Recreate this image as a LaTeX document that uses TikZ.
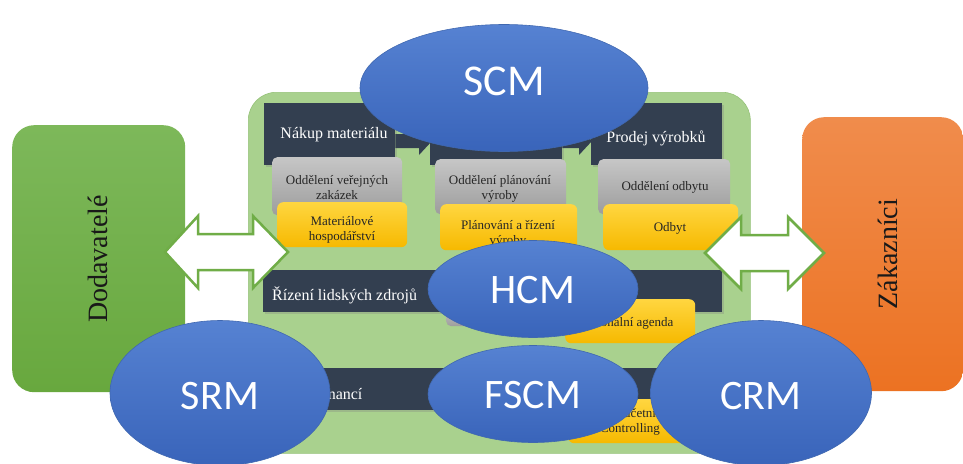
\documentclass[tikz,border=0pt]{standalone}
\usepackage{fontspec}
\setmainfont{Liberation Serif}
\newfontfamily\calib{Carlito}
\usetikzlibrary{shapes.geometric,shadows}
\definecolor{dkbox}{HTML}{333F50}
\definecolor{grayA}{HTML}{C6C6C6}
\definecolor{grayB}{HTML}{9D9D9D}
\definecolor{yelA}{HTML}{FFD640}
\definecolor{yelB}{HTML}{F6B900}
\definecolor{bgGreen}{HTML}{A9D18E}
\definecolor{bgEdge}{HTML}{95C278}
\definecolor{greenA}{HTML}{7DB85A}
\definecolor{greenB}{HTML}{68A83E}
\definecolor{orA}{HTML}{F08C4C}
\definecolor{orB}{HTML}{EC7222}
\definecolor{bluA}{HTML}{5682D2}
\definecolor{bluB}{HTML}{3964BA}
\definecolor{bluEdge}{HTML}{4068B0}
\definecolor{arrGreen}{HTML}{70AD47}
\definecolor{txtdark}{HTML}{262626}
\begin{document}
\begin{tikzpicture}[x=1pt,y=-1pt,
  dk/.style={fill=dkbox, inner sep=0, anchor=north west, drop shadow={opacity=0.3, shadow xshift=1.5pt, shadow yshift=-1.5pt}},
  gy/.style={top color=grayA, bottom color=grayB, rounded corners=5, inner sep=0, anchor=north west},
  yl/.style={top color=yelA, bottom color=yelB, rounded corners=6, inner sep=0, anchor=north west},
  dktxt/.style={text=white, font=\fontsize{16}{18}\selectfont, inner sep=0},
  lttxt/.style={text=txtdark, font=\fontsize{13}{15}\selectfont, align=center, inner sep=0},
  bubble/.style={ellipse, top color=bluA, bottom color=bluB, draw=bluEdge, line width=0.6, inner sep=0},
  btxt/.style={text=white, font=\calib\fontsize{42}{50}\selectfont, inner sep=0},
  bigarrow/.style={draw=arrGreen, fill=white, line width=2.5, line join=miter},
  procarrow/.style={fill=dkbox},
  sidetxt/.style={font=\fontsize{28}{32}\selectfont, rotate=90, inner sep=0, text=black!90}
]
\useasboundingbox[fill=white] (0,0) rectangle (963,463);

% side boxes
\node[top color=greenA, bottom color=greenB, rounded corners=22, inner sep=0, anchor=north west,
      minimum width=173, minimum height=267] (dod) at (12,125) {};
\node[sidetxt] (dodt) at (98,259) {Dodavatelé};
\node[top color=orA, bottom color=orB, rounded corners=22, inner sep=0, anchor=north west,
      minimum width=161, minimum height=274] (zak) at (802,117) {};
\node[sidetxt] (zakt) at (888,254) {Zákazníci};

% central area
\node[fill=bgGreen, draw=bgEdge, line width=0.6, rounded corners=28, inner sep=0, anchor=north west,
      minimum width=502, minimum height=361] (core) at (248,92) {};

% process row
\node[dk, minimum width=131, minimum height=62] (nakup) at (264,103) {};
\node[dk, minimum width=132, minimum height=62] (vyroba) at (430,103) {};
\node[dk, minimum width=131, minimum height=62] (prodej) at (591,103) {};
\fill[procarrow] (nakup.east |- 0,134) -- (419,134) -- (419,126) -- (432,141) -- (419,155) -- (419,148) -- (nakup.east |- 0,148) -- cycle;
\fill[procarrow] (vyroba.east |- 0,134) -- (579,134) -- (579,126) -- (592,141) -- (579,155) -- (579,148) -- (vyroba.east |- 0,148) -- cycle;
\node[dktxt] (nakupt) at (334,135) {Nákup materiálu};
\node[dktxt] (prodejt) at (656,138) {Prodej výrobků};

% gray row
\node[gy, minimum width=130, minimum height=58] (g1) at (272,157) {};
\node[lttxt] (g1t) at (337,188) {Oddělení veřejných\\zakázek};
\node[gy, minimum width=131, minimum height=55] (g2) at (435,159) {};
\node[lttxt] (g2t) at (500,189) {Oddělení plánování\\výroby};
\node[gy, minimum width=132, minimum height=55] (g3) at (598,159) {};
\node[lttxt] (g3t) at (665,187) {Oddělení odbytu};

% yellow row
\node[yl, minimum width=130, minimum height=45] (y1) at (277,202) {};
\node[lttxt] (y1t) at (342,230) {Materiálové\\hospodářství};
\node[yl, minimum width=137, minimum height=46] (y2) at (440,204) {};
\node[lttxt] (y2t) at (508,234) {Plánování a řízení\\výroby};
\node[yl, minimum width=135, minimum height=46] (y3) at (603,204) {};
\node[lttxt] (y3t) at (670,228) {Odbyt};

% HR row
\node[dk, minimum width=459, minimum height=42] (hr) at (263,270) {};
\node[dktxt, anchor=west] (hrt) at (272,295) {Řízení lidských zdrojů};
\node[gy, minimum width=120, minimum height=20] (g4) at (446,306) {};
\node[yl, minimum width=130, minimum height=44] (y4) at (565,299) {};
\node[lttxt] (y4t) at (626,323) {Personální agenda};

% finance row
\node[dk, minimum width=459, minimum height=42] (fin) at (263,368) {};
\node[dktxt, anchor=west] (fint) at (272,393) {Řízení financí};
\node[yl, minimum width=130, minimum height=44] (y5) at (568,399) {};
\node[lttxt] (y5t) at (630,422) {Finanční účetnictví a\\Controlling};

% big double arrows
\draw[bigarrow] (165,252) -- (198,216) -- (198,234) -- (253,234) -- (253,216) -- (288,252)
   -- (253,288) -- (253,270) -- (198,270) -- (198,288) -- cycle;
\draw[bigarrow] (705,253) -- (741,217) -- (741,235) -- (788,235) -- (788,217) -- (824,253)
   -- (788,289) -- (788,271) -- (741,271) -- (741,289) -- cycle;

% ellipses
\node[bubble, minimum width=288, minimum height=127] (scm) at (504,88) {};
\node[btxt, font=\calib\fontsize{44}{50}\selectfont] (scmt) at (504,81) {SCM};
\node[bubble, minimum width=210, minimum height=97] (hcm) at (533,289) {};
\node[btxt] (hcmt) at (533,290) {HCM};
\node[bubble, minimum width=210, minimum height=97] (fscm) at (533,394) {};
\node[btxt] (fscmt) at (533,395) {FSCM};
\node[bubble, minimum width=220, minimum height=145] (srm) at (220,393) {};
\node[btxt] (srmt) at (220,396) {SRM};
\node[bubble, minimum width=221, minimum height=145] (crm) at (761,393) {};
\node[btxt] (crmt) at (761,396) {CRM};
\end{tikzpicture}
\end{document}
